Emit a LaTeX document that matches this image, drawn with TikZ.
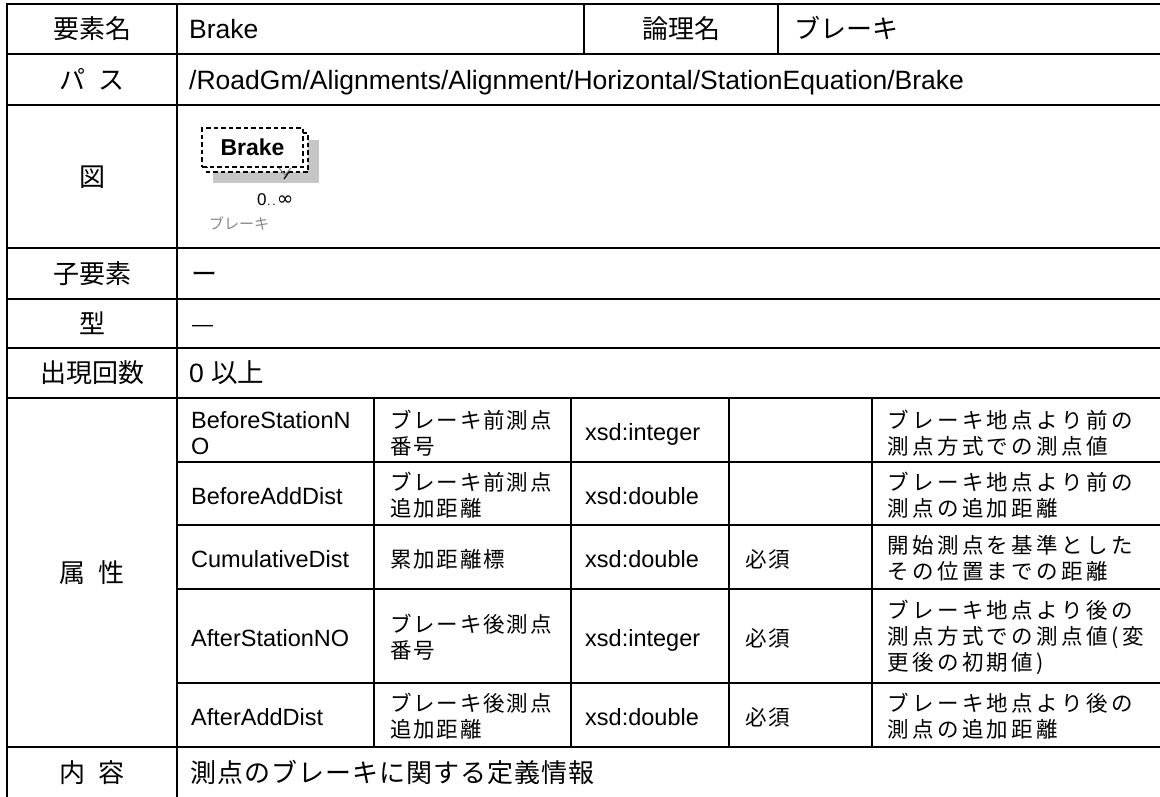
\documentclass[tikz,border=0pt]{standalone}
\usepackage{fontspec}
\setmainfont{Liberation Sans}
\newfontfamily\jp{Noto Sans CJK JP}
\newfontfamily\jpc{Noto Sans CJK JP}[LetterSpace=4]
\newfontfamily\jpsp{Noto Sans CJK JP}[LetterSpace=16]
\newfontfamily\jpsm{Noto Sans CJK JP}[LetterSpace=8.5]
\newfontfamily\dv{DejaVu Sans}
\definecolor{shadowgray}{RGB}{198,198,198}
\definecolor{lblgray}{RGB}{135,135,135}
\begin{document}
\begin{tikzpicture}[x=1pt,y=-1pt,
  gridline/.style={line width=2.2pt, line cap=rect},
  hd/.style={font=\fontsize{26}{30}\selectfont\jp, inner sep=0pt, anchor=base},
  val/.style={font=\fontsize{26.5}{30}\selectfont, inner sep=0pt, anchor=base west},
  valj/.style={font=\fontsize{26}{30}\selectfont\jp, inner sep=0pt, anchor=base west},
  an/.style={font=\fontsize{23.5}{26}\selectfont, inner sep=0pt, anchor=base west},
  anm/.style={font=\fontsize{23.5}{26}\selectfont, inner sep=0pt, anchor=west, align=left},
  aj/.style={font=\fontsize{21.5}{26}\selectfont\jpsm, inner sep=0pt, anchor=base west},
  ajm/.style={font=\fontsize{21.5}{26}\selectfont\jpsm, inner sep=0pt, anchor=west, align=left},
  ad/.style={font=\fontsize{21.5}{26}\selectfont\jpsp, inner sep=0pt, anchor=west, align=left},
  dashline/.style={line width=1.4pt, dash pattern=on 4.5pt off 3pt},
  iconbox/.style={dashline, draw, fill=white,
    minimum width=101pt, minimum height=39pt, inner sep=0pt,
    font=\fontsize{23}{23}\selectfont\bfseries}
]
\fill[white] (0,0) rectangle (1160,796);
\useasboundingbox (0,0) rectangle (1160,796);

% ---- grid ----
\foreach \yy in {4,54,105,248,299,348,398,747}
  \draw[gridline] (7,\yy) -- (1162,\yy);
\foreach \yy in {462,525,589,683}
  \draw[gridline] (177,\yy) -- (1162,\yy);
\draw[gridline] (7,4) -- (7,798);
\draw[gridline] (177,4) -- (177,798);
\draw[gridline] (584,4) -- (584,54);
\draw[gridline] (778,4) -- (778,54);
\foreach \xx in {374,571,729,872}
  \draw[gridline] (\xx,398) -- (\xx,747);

% ---- header column ----
\node[hd] (h1) at (92,38.6) {要素名};
\node[hd] (h2) at (92,89.1) {パ\hspace{0.5em}ス};
\node[hd] (h3) at (92,186.1) {図};
\node[hd] (h4) at (92,283.1) {子要素};
\node[hd] (h5) at (92,333.1) {型};
\node[hd] (h6) at (92,382.6) {出現回数};
\node[hd] (h7) at (92,582.1) {属\hspace{0.5em}性};
\node[hd] (h8) at (92,782.6) {内\hspace{0.5em}容};

% ---- values ----
\node[val] (v1) at (189,38.6) {Brake};
\node[hd] (h1b) at (681,38.6) {論理名};
\node[valj] (v1b) at (794,38.6) {ブレーキ};
\node[val] (v2) at (189,89.1) {/RoadGm/Alignments/Alignment/Horizontal/StationEquation/Brake};
\node[valj] (v4) at (191,283.1) {ー};
\node[font=\fontsize{21}{21}\selectfont, inner sep=0pt, anchor=base west] (v5) at (192,331) {—};
\node[val] (v6) at (189,382.6) {0 {\jp 以上}};
\node[valj, font=\fontsize{26}{30}\selectfont\jpc] (v8) at (190,782.6) {測点のブレーキに関する定義情報};

% ---- attributes ----
\node[anm] (n1) at (191,433.5) {BeforeStationN\\O};
\node[ajm] (j1) at (390,433.5) {ブレーキ前測点\\番号};
\node[an] (t1) at (585,440.5) {xsd:integer};
\node[ad] (d1) at (887,433.5) {ブレーキ地点より前の\\測点方式での測点値};

\node[an] (n2) at (191,504) {BeforeAddDist};
\node[ajm] (j2) at (390,495) {ブレーキ前測点\\追加距離};
\node[an] (t2) at (585,504) {xsd:double};
\node[ad] (d2) at (887,495) {ブレーキ地点より前の\\測点の追加距離};

\node[an] (n3) at (191,567.5) {CumulativeDist};
\node[aj] (j3) at (390,567.5) {累加距離標};
\node[an] (t3) at (585,567.5) {xsd:double};
\node[aj] (r3) at (745,567.5) {必須};
\node[ad] (d3) at (887,558.5) {開始測点を基準とした\\その位置までの距離};

\node[an] (n4) at (191,646.5) {AfterStationNO};
\node[ajm] (j4) at (390,637.5) {ブレーキ後測点\\番号};
\node[an] (t4) at (585,646.5) {xsd:integer};
\node[aj] (r4) at (745,646.5) {必須};
\node[ad] (d4) at (887,637.5) {ブレーキ地点より後の\\測点方式での測点値(変\\更後の初期値)};

\node[an] (n5) at (191,725.5) {AfterAddDist};
\node[ajm] (j5) at (390,716.5) {ブレーキ後測点\\追加距離};
\node[an] (t5) at (585,725.5) {xsd:double};
\node[aj] (r5) at (745,725.5) {必須};
\node[ad] (d5) at (887,716.5) {ブレーキ地点より後の\\測点の追加距離};

% ---- figure icon ----
\fill[shadowgray] (213,140) rectangle (319,183);
\draw[dashline, fill=white] (207,133) rectangle (308,172);
\node[iconbox] (icon) at (252.5,147.5) {Brake};
\draw[lblgray, line width=1pt] (279,168) -- (285,175) -- (291,168);
\draw[line width=1.2pt] (289,172) -- (284,179);
\node[font=\fontsize{17}{17}\selectfont, inner sep=0pt, anchor=base west] (mult) at (257,205)
  {0\hspace{0.5pt}{\fontsize{12}{12}\selectfont .\hspace{2pt}.}\hspace{1pt}{\dv\fontsize{20}{20}\selectfont ∞}};
\node[font=\fontsize{15}{15}\selectfont\jp, text=lblgray, inner sep=0pt, anchor=base west] (lbl) at (209,229.7) {ブレーキ};
\end{tikzpicture}
\end{document}
